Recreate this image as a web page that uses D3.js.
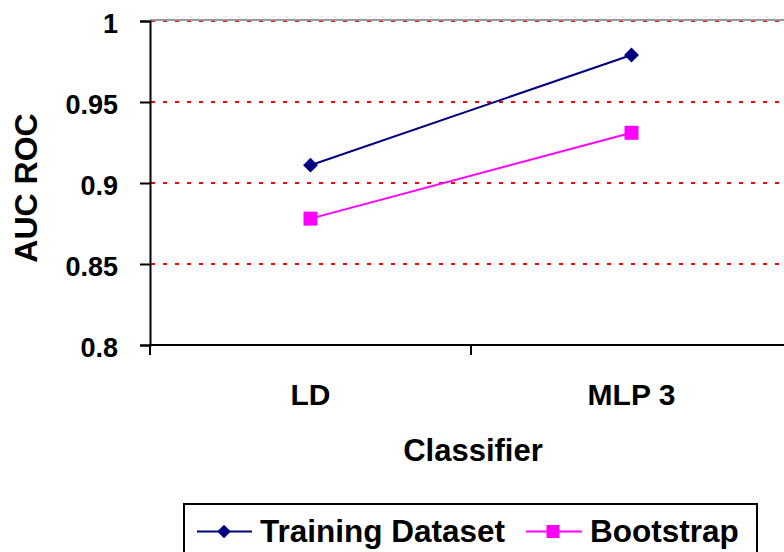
<!DOCTYPE html>
<html><head><meta charset="utf-8">
<script src="https://cdn.jsdelivr.net/npm/d3@7"></script>
<style>body{margin:0;background:#fff}svg{display:block;font-family:"Liberation Sans",Arial,sans-serif;font-weight:bold}</style>
</head><body>
<script>
const categories = ["LD", "MLP 3"];
const trainingValues = [0.911, 0.979];
const bootstrapValues = [0.878, 0.931];
const yTicks = [0.8, 0.85, 0.9, 0.95, 1];
const yTickLabels = ["0.8", "0.85", "0.9", "0.95", "1"];
const seriesNames = ["Training Dataset", "Bootstrap"];

const W = 784, H = 552;
const svg = d3.select("body").append("svg").attr("width", W).attr("height", H);
const x = d3.scaleBand().domain(categories).range([150, 792]).padding(0);
const y = d3.scaleLinear().domain([0.8, 1]).range([345, 21]);

// gridlines
svg.append("g").selectAll("line").data(yTicks.filter(d => d > 0.8)).join("line")
  .attr("x1", 151).attr("x2", 784).attr("y1", d => y(d)).attr("y2", d => y(d))
  .attr("stroke", "#ff0000").attr("stroke-width", 2).attr("stroke-dasharray", "4,8");
// top border
svg.append("line").attr("x1", 150).attr("x2", 784).attr("y1", y(1) - 1).attr("y2", y(1) - 1)
  .attr("stroke", "#999").attr("stroke-width", 2);

// y axis
const yAxis = d3.axisLeft(y).tickValues(yTicks).tickFormat((d, i) => yTickLabels[i]).tickSize(10).tickPadding(22);
const gy = svg.append("g").attr("transform", "translate(150,0)").call(yAxis);
gy.select(".domain").attr("stroke", "#000").attr("stroke-width", 2);
gy.selectAll(".tick line").attr("stroke", "#000").attr("stroke-width", 2);
gy.selectAll("text").attr("font-size", 27).attr("font-weight", "bold").attr("dy", "0.42em")
  .attr("font-family", "Liberation Sans, Arial").attr("fill", "#000");

// x axis
const bounds = [150, 150 + x.bandwidth(), 150 + 2 * x.bandwidth()];
svg.append("line").attr("x1", 150).attr("x2", 784).attr("y1", 345).attr("y2", 345).attr("stroke", "#000").attr("stroke-width", 2);
svg.append("g").selectAll("line").data(bounds).join("line")
  .attr("x1", d => d).attr("x2", d => d).attr("y1", 345).attr("y2", 355).attr("stroke", "#000").attr("stroke-width", 2);
svg.append("g").selectAll("text").data(categories).join("text")
  .attr("x", d => x(d) + x.bandwidth() / 2).attr("y", 405).attr("text-anchor", "middle")
  .attr("font-size", 30).attr("fill", "#000").text(d => d);

// axis titles
svg.append("text").attr("x", 473).attr("y", 461).attr("text-anchor", "middle").attr("font-size", 31).text("Classifier");
svg.append("text").attr("transform", "translate(37,188) rotate(-90)").attr("text-anchor", "middle").attr("font-size", 32).text("AUC ROC");

const cx = d => x(d) + x.bandwidth() / 2;
const line = d3.line().x(d => cx(d.c)).y(d => y(d.v));
const tData = categories.map((c, i) => ({c, v: trainingValues[i]}));
const bData = categories.map((c, i) => ({c, v: bootstrapValues[i]}));

svg.append("path").datum(tData).attr("d", line).attr("fill", "none").attr("stroke", "#000080").attr("stroke-width", 2);
svg.append("path").datum(bData).attr("d", line).attr("fill", "none").attr("stroke", "#ff00ff").attr("stroke-width", 2);

const diamond = d3.symbol().type(d3.symbolSquare).size(110);
svg.append("g").selectAll("path").data(tData).join("path")
  .attr("d", diamond).attr("transform", d => `translate(${cx(d.c)},${y(d.v)}) rotate(45)`).attr("fill", "#000080");
svg.append("g").selectAll("rect").data(bData).join("rect")
  .attr("x", d => cx(d.c) - 7).attr("y", d => y(d.v) - 7).attr("width", 14).attr("height", 14).attr("fill", "#ff00ff");

// legend
svg.append("rect").attr("x", 184).attr("y", 504).attr("width", 573).attr("height", 60).attr("fill", "#fff").attr("stroke", "#000").attr("stroke-width", 2);
const lg = svg.append("g");
lg.append("line").attr("x1", 197).attr("x2", 252).attr("y1", 531.5).attr("y2", 531.5).attr("stroke", "#000080").attr("stroke-width", 2);
lg.append("path").attr("d", d3.symbol().type(d3.symbolSquare).size(90)()).attr("transform", "translate(224,531.5) rotate(45)").attr("fill", "#000080");
lg.append("text").attr("x", 260).attr("y", 542).attr("font-size", 31.5).text(seriesNames[0]);
lg.append("line").attr("x1", 526).attr("x2", 582).attr("y1", 531.5).attr("y2", 531.5).attr("stroke", "#ff00ff").attr("stroke-width", 2);
lg.append("rect").attr("x", 546.5).attr("y", 525).attr("width", 13).attr("height", 13).attr("fill", "#ff00ff");
lg.append("text").attr("x", 590).attr("y", 542).attr("font-size", 31.5).text(seriesNames[1]);
</script>
</body></html>
